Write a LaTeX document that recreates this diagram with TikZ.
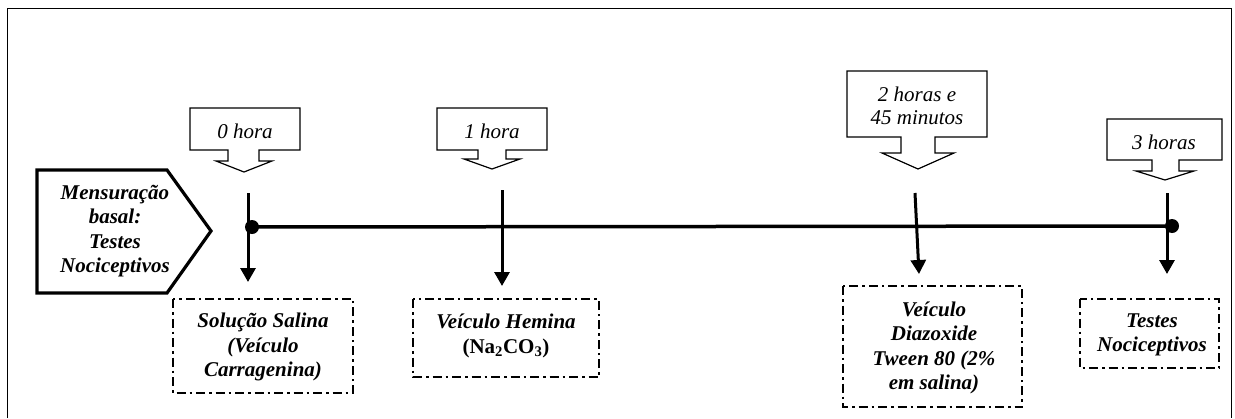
\documentclass[tikz,border=0pt]{standalone}
\usepackage{fontspec}
\setmainfont{Liberation Serif}
\usetikzlibrary{arrows.meta}
\begin{document}
\begin{tikzpicture}[x=1pt,y=-1pt,
  txt/.style={font=\fontsize{21}{24.5}\selectfont\bfseries\itshape, align=center, inner sep=0pt},
  ctxt/.style={font=\fontsize{21}{23.5}\selectfont\itshape, align=center, inner sep=0pt},
  callout/.style={draw, line width=1.2pt, line join=miter},
  dbox/.style={draw, line width=1.3pt, dash pattern=on 9pt off 4pt on 2.5pt off 4pt},
  tline/.style={line width=3.5pt},
  varrow/.style={line width=3pt, -{Triangle[width=15pt,length=14pt]}},
  dot/.style={circle, fill=black, inner sep=0pt, minimum size=14pt}]
\useasboundingbox (0,0) rectangle (1235,418);
% frame
\draw[line width=1pt] (7,418) -- (7,8) -- (1231,8) -- (1231,418);
% pentagon
\draw[line width=3.2pt, line join=miter] (37,170) -- (167,170) -- (211,231) -- (167,293) -- (37,293) -- cycle;
\node[txt] (basal) at (115,231) {Mensuração\\basal:\\Testes\\Nociceptivos};
% callouts
\draw[callout] (228,150) -- (190,150) -- (190,108) -- (300,108) -- (300,150) -- (259,150) -- (259,161) -- (272,161) -- (244,172) -- (216,161) -- (228,161) -- cycle;
\node[ctxt] (c0) at (245,131) {0 hora};
\draw[callout] (478,150) -- (437,150) -- (437,108) -- (547,108) -- (547,150) -- (506,150) -- (506,159) -- (520,159) -- (492,169) -- (464,159) -- (478,159) -- cycle;
\node[ctxt] (c1) at (492,131) {1 hora};
\draw[callout] (901,137) -- (847,137) -- (847,71) -- (987,71) -- (987,137) -- (935,137) -- (935,153) -- (954,153) -- (918,169) -- (882,153) -- (901,153) -- cycle;
\node[ctxt] (c2) at (917,106) {2 horas e\\45 minutos};
\draw[callout] (1152,160) -- (1107,160) -- (1107,119) -- (1222,119) -- (1222,160) -- (1179,160) -- (1179,171) -- (1194,171) -- (1165,180) -- (1136,171) -- (1152,171) -- cycle;
\node[ctxt] (c3) at (1164,142) {3 horas};
% timeline
\node[dot] (d0) at (252,227) {};
\node[dot] (d3) at (1172,226) {};
\draw[tline] (d0.center) -- (d3.center);
% vertical arrows
\coordinate (a0s) at (248,193); \coordinate (a0e) at (248,282);
\coordinate (a1s) at (502,190); \coordinate (a1e) at (502,286);
\coordinate (a2s) at (915,193); \coordinate (a2e) at (919,274);
\coordinate (a3s) at (1167,193); \coordinate (a3e) at (1167,274);
\draw[varrow] (a0s) -- (a0e);
\draw[varrow] (a1s) -- (a1e);
\draw[varrow] (a2s) -- (a2e);
\draw[varrow] (a3s) -- (a3e);
% dashed boxes
\draw[dbox] (173,299) rectangle (353,393);
\node[txt] (b0) at (263,347) {Solução Salina\\(Veículo\\Carragenina)};
\draw[dbox] (413,299) rectangle (599,377);
\node[txt] (b1) at (506,336) {Veículo Hemina\\\upshape (Na\textsubscript{2}CO\textsubscript{3})};
\draw[dbox] (843,286) rectangle (1022,407);
\node[txt] (b2) at (934,348) {Veículo\\Diazoxide\\Tween 80 (2\%\\em salina)};
\draw[dbox] (1080,299) rectangle (1219,368);
\node[txt] (b3) at (1152,335) {Testes\\Nociceptivos};
\end{tikzpicture}
\end{document}
